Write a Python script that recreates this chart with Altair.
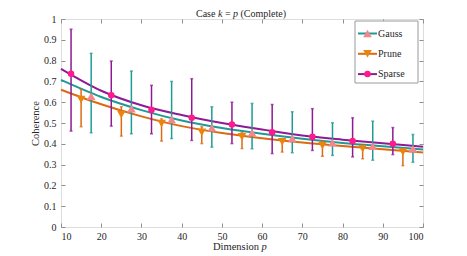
import altair as alt
import pandas as pd

# ---------------- data ----------------
SERIES = ["Gauss", "Prune", "Sparse"]

curve_dims = [10, 20, 30, 40, 50, 60, 70, 80, 90, 100]
curve_gauss = [0.707, 0.625, 0.562, 0.512, 0.476, 0.448, 0.424, 0.404, 0.388, 0.373]
curve_prune = [0.660, 0.590, 0.532, 0.485, 0.452, 0.427, 0.406, 0.389, 0.374, 0.358]
curve_sparse = [0.760, 0.655, 0.585, 0.538, 0.500, 0.469, 0.440, 0.420, 0.403, 0.386]

gauss_dims = [17.5, 27.5, 37.5, 47.5, 57.5, 67.5, 77.5, 87.5, 97.5]
gauss_mid = [0.629, 0.569, 0.517, 0.477, 0.453, 0.425, 0.405, 0.388, 0.376]
gauss_lo = [0.453, 0.448, 0.425, 0.384, 0.376, 0.357, 0.344, 0.321, 0.311]
gauss_hi = [0.835, 0.750, 0.700, 0.578, 0.594, 0.554, 0.501, 0.509, 0.445]

prune_dims = [15, 25, 35, 45, 55, 65, 75, 85, 95]
prune_mid = [0.613, 0.541, 0.498, 0.456, 0.434, 0.410, 0.392, 0.376, 0.360]
prune_lo = [0.482, 0.437, 0.413, 0.401, 0.377, 0.360, 0.340, 0.328, 0.295]
prune_hi = [0.662, 0.578, 0.520, 0.482, 0.453, 0.424, 0.413, 0.392, 0.376]

sparse_dims = [12.5, 22.5, 32.5, 42.5, 52.5, 62.5, 72.5, 82.5, 92.5]
sparse_mid = [0.737, 0.633, 0.562, 0.525, 0.493, 0.456, 0.434, 0.413, 0.400]
sparse_lo = [0.461, 0.485, 0.448, 0.416, 0.401, 0.353, 0.368, 0.337, 0.348]
sparse_hi = [0.951, 0.798, 0.681, 0.713, 0.600, 0.589, 0.569, 0.525, 0.478]

x_ticks = [10, 20, 30, 40, 50, 60, 70, 80, 90, 100]
y_ticks = [0, 0.1, 0.2, 0.3, 0.4, 0.5, 0.6, 0.7, 0.8, 0.9, 1]

# ---------------- styling ----------------
W, H = 362, 208
FONT = "Liberation Serif, Times New Roman, serif"
AX = "#8f8f8f"
TXT = "#262626"

line_color = {"Gauss": "#1f9a96", "Prune": "#dc6a12", "Sparse": "#8e1a94"}
bar_color = {"Gauss": "#1f9a96", "Prune": "#dc6a12", "Sparse": "#8e1a94"}
mark_color = {"Gauss": "#f4878c", "Prune": "#ea840f", "Sparse": "#ff1a8c"}
mark_shape = {"Gauss": "triangle-up", "Prune": "triangle-down", "Sparse": "circle"}
mark_size = {"Gauss": 75, "Prune": 75, "Sparse": 42}

curves = {"Gauss": curve_gauss, "Prune": curve_prune, "Sparse": curve_sparse}
bars = {
    "Gauss": (gauss_dims, gauss_mid, gauss_lo, gauss_hi),
    "Prune": (prune_dims, prune_mid, prune_lo, prune_hi),
    "Sparse": (sparse_dims, sparse_mid, sparse_lo, sparse_hi),
}

xs = alt.Scale(domain=[10, 100], nice=False, zero=False)
ys = alt.Scale(domain=[0, 1], nice=False, zero=False)

curve_df = pd.DataFrame({
    "dim": curve_dims * 3,
    "val": curve_gauss + curve_prune + curve_sparse,
    "series": sum([[s] * len(curve_dims) for s in SERIES], []),
})

layers = []


def axis_layer(xaxis, yaxis):
    return alt.Chart(curve_df).mark_point(opacity=0).encode(
        x=alt.X("dim:Q", scale=xs, axis=xaxis),
        y=alt.Y("val:Q", scale=ys, axis=yaxis),
    )


# labels + y title
layers.append(axis_layer(
    alt.Axis(orient="bottom", values=x_ticks, ticks=False, domain=False, grid=False,
             labelFont=FONT, labelFontSize=10, labelColor=TXT, labelPadding=4,
             title=None),
    alt.Axis(orient="left", values=y_ticks, format="~g", ticks=False, domain=False,
             grid=False, labelFont=FONT, labelFontSize=10, labelColor=TXT,
             labelPadding=5, title="Coherence", titleFont=FONT, titleFontSize=10.5,
             titleFontWeight="normal", titleColor=TXT, titlePadding=3),
))
# inward ticks bottom/left
layers.append(axis_layer(
    alt.Axis(orient="bottom", values=x_ticks, offset=-4, tickSize=4, labels=False,
             domain=False, grid=False, tickColor=AX, title=None),
    alt.Axis(orient="left", values=y_ticks, offset=-4, tickSize=4, labels=False,
             domain=False, grid=False, tickColor=AX, title=None),
))
# inward ticks top/right
layers.append(axis_layer(
    alt.Axis(orient="top", values=x_ticks, offset=-4, tickSize=4, labels=False,
             domain=False, grid=False, tickColor=AX, title=None),
    alt.Axis(orient="right", values=y_ticks, offset=-4, tickSize=4, labels=False,
             domain=False, grid=False, tickColor=AX, title=None),
))

# fitted curves
for s in SERIES:
    df = pd.DataFrame({"dim": curve_dims, "val": curves[s]})
    layers.append(alt.Chart(df).mark_line(
        interpolate="monotone", strokeWidth=2, color=line_color[s]).encode(
        x=alt.X("dim:Q", scale=xs, axis=None),
        y=alt.Y("val:Q", scale=ys, axis=None),
    ))

# error bars and markers
for s in SERIES:
    d, m, lo, hi = bars[s]
    df = pd.DataFrame({"dim": d, "mid": m, "lo": lo, "hi": hi})
    base = alt.Chart(df)
    layers.append(base.mark_rule(strokeWidth=1.5, color=bar_color[s]).encode(
        x=alt.X("dim:Q", scale=xs, axis=None),
        y=alt.Y("lo:Q", scale=ys, axis=None),
        y2="hi:Q",
    ))
    for f in ["lo", "hi"]:
        layers.append(base.mark_tick(orient="horizontal", size=3, thickness=1.5,
                                     color=bar_color[s]).encode(
            x=alt.X("dim:Q", scale=xs, axis=None),
            y=alt.Y(f"{f}:Q", scale=ys, axis=None),
        ))
for s in SERIES:
    d, m, lo, hi = bars[s]
    df = pd.DataFrame({"dim": d, "mid": m})
    layers.append(alt.Chart(df).mark_point(
        filled=True, opacity=1, shape=mark_shape[s], size=mark_size[s],
        color=mark_color[s]).encode(
        x=alt.X("dim:Q", scale=xs, axis=None),
        y=alt.Y("mid:Q", scale=ys, axis=None),
    ))

one = pd.DataFrame({"a": [0]})

# legend
layers.append(alt.Chart(one).mark_rect(fill="white", stroke="#9a9a9a", strokeWidth=1).encode(
    x=alt.value(294), x2=alt.value(357), y=alt.value(2), y2=alt.value(64)))
for i, s in enumerate(SERIES):
    yy = 14.5 + i * 20.3
    layers.append(alt.Chart(one).mark_rule(strokeWidth=2, color=line_color[s]).encode(
        x=alt.value(297), x2=alt.value(316), y=alt.value(yy)))
    layers.append(alt.Chart(one).mark_point(
        filled=True, opacity=1, shape=mark_shape[s], size=mark_size[s],
        color=mark_color[s]).encode(x=alt.value(306.5), y=alt.value(yy)))
    layers.append(alt.Chart(one).mark_text(
        text=s, font=FONT, fontSize=10, color=TXT, align="left", baseline="middle").encode(
        x=alt.value(317), y=alt.value(yy)))

# title with italic symbols
title_parts = ["Case", "k", "=", "p", "(Complete)"]
title_italic = [False, True, False, True, False]
title_x = [135, 157, 164, 172, 179.5]
for t, it, xx in zip(title_parts, title_italic, title_x):
    layers.append(alt.Chart(one).mark_text(
        text=t, font=FONT, fontSize=10, color=TXT, align="left", baseline="middle",
        fontStyle="italic" if it else "normal").encode(x=alt.value(xx), y=alt.value(-5.5)))

# x-axis title with italic p
xlab_parts = ["Dimension", "p"]
xlab_italic = [False, True]
xlab_x = [152, 200.5]
for t, it, xx in zip(xlab_parts, xlab_italic, xlab_x):
    layers.append(alt.Chart(one).mark_text(
        text=t, font=FONT, fontSize=10.5, color=TXT, align="left", baseline="middle",
        fontStyle="italic" if it else "normal").encode(x=alt.value(xx), y=alt.value(227.5)))

chart = alt.layer(*layers).resolve_axis(x="independent", y="independent").properties(
    width=W, height=H,
    autosize=alt.AutoSizeParams(type="none"),
    padding={"left": 53, "top": 11, "right": 30, "bottom": 40},
).configure_view(stroke=AX, strokeWidth=1).configure(background="white")

chart.save("out.html", embed_options={"renderer": "svg", "actions": False})
